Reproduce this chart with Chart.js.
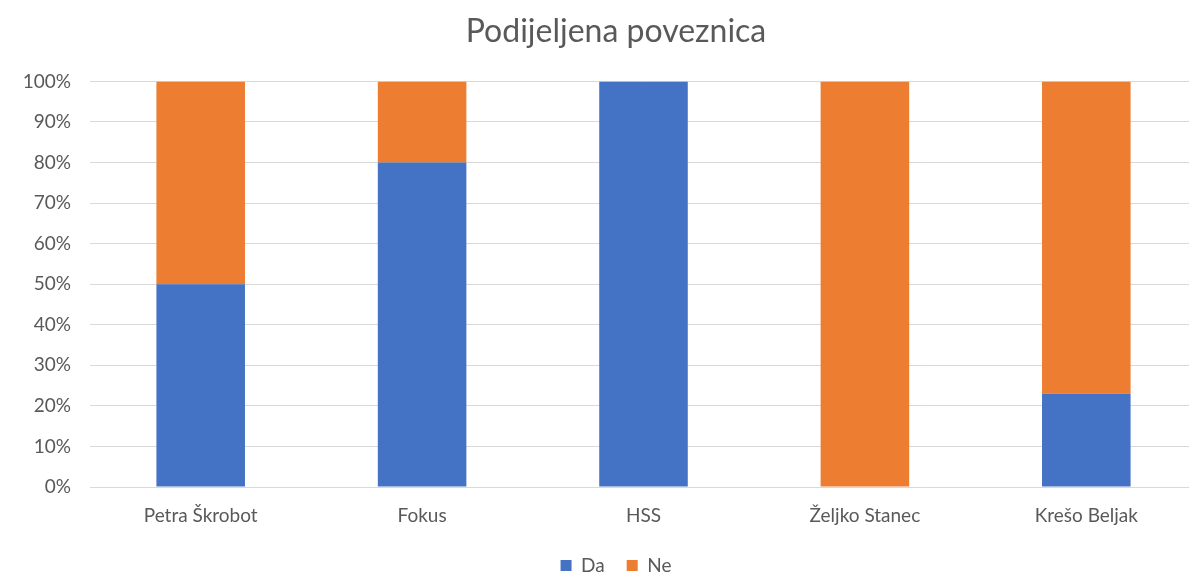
<!DOCTYPE html>
<html>
<head>
<meta charset="utf-8">
<script src="https://cdn.jsdelivr.net/npm/chart.js@4"></script>
<style>
  html, body { margin: 0; padding: 0; background: #fff; overflow: hidden; }
  #wrap { position: absolute; left: 0; top: 0; width: 1261px; height: 574px; }
</style>
</head>
<body>
<div id="wrap"><canvas id="grafica"></canvas></div>
<script>
const kategorije = ['Petra Škrobot', 'Fokus', 'HSS', 'Željko Stanec', 'Krešo Beljak'];
const da = [50, 80, 100, 0, 23];
const ne = [50, 20, 0, 100, 77];
const yTicks = [0, 10, 20, 30, 40, 50, 60, 70, 80, 90, 100];

const font = "Lato, 'Open Sans', sans-serif";
const siva = '#595959';

const ctx = document.getElementById('grafica');

new Chart(ctx, {
  type: 'bar',
  data: {
    labels: kategorije,
    datasets: [{
      label: 'Da',
      data: da,
      backgroundColor: '#4472C4',
      barPercentage: 0.4,
      categoryPercentage: 1
    }, {
      label: 'Ne',
      data: ne,
      backgroundColor: '#ED7D31',
      barPercentage: 0.4,
      categoryPercentage: 1
    }]
  },
  options: {
    responsive: true,
    maintainAspectRatio: false,
    animation: false,
    layout: {
      padding: { top: 12, left: 0, right: 29, bottom: -11 }
    },
    plugins: {
      title: {
        display: true,
        text: 'Podijeljena poveznica',
        color: siva,
        font: { family: font, size: 32, weight: 'normal' },
        padding: { top: 0, bottom: 31 }
      },
      legend: {
        position: 'bottom',
        labels: {
          color: siva,
          font: { family: font, size: 19 },
          boxWidth: 11,
          boxHeight: 11,
          padding: 22
        }
      },
      tooltip: { enabled: false }
    },
    scales: {
      x: {
        stacked: true,
        grid: { display: false },
        border: { display: false },
        ticks: {
          color: siva,
          font: { family: font, size: 19 },
          padding: 9
        },
        afterFit: function (scale) { scale.height = 47; }
      },
      y: {
        stacked: true,
        min: 0,
        max: 100,
        afterFit: function (scale) { scale.width = 90; },
        afterBuildTicks: function (scale) {
          scale.ticks = yTicks.map(v => ({ value: v }));
        },
        grid: {
          color: '#d9d9d9',
          lineWidth: 1,
          drawTicks: false
        },
        border: { display: false },
        ticks: {
          color: siva,
          font: { family: font, size: 19 },
          padding: 19,
          callback: v => v + '%'
        }
      },
      // prazna desna os, samo da naslov i legenda budu centrirani kao u originalu
      desno: {
        type: 'linear',
        position: 'right',
        grid: { display: false },
        border: { display: false },
        ticks: { display: false },
        afterFit: function (scale) { scale.width = 35; }
      }
    }
  }
});
</script>
</body>
</html>
